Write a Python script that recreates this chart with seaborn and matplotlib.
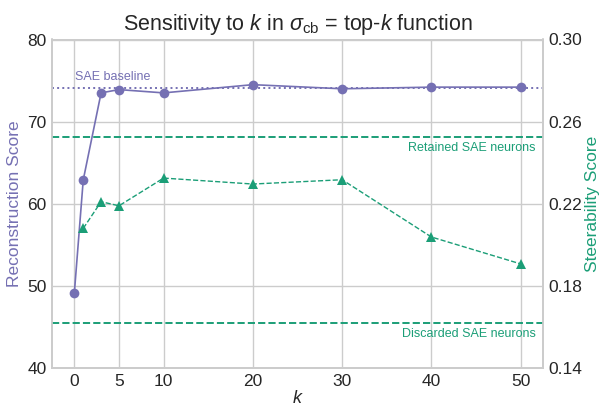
import matplotlib
matplotlib.use("Agg")
import matplotlib.pyplot as plt
import seaborn as sns
import pandas as pd

k_values = [0, 1, 3, 5, 10, 20, 30, 40, 50]
recon_scores = [49.1, 62.9, 73.5, 73.9, 73.5, 74.5, 74.0, 74.2, 74.2]
steer_k = [1, 3, 5, 10, 20, 30, 40, 50]
steer_scores = [0.208, 0.221, 0.219, 0.2325, 0.2296, 0.2317, 0.2038, 0.1907]
sae_baseline = 74.1
retained_sae = 0.2527
discarded_sae = 0.1619
x_ticks = [0, 5, 10, 20, 30, 40, 50]
left_ticks = [40, 50, 60, 70, 80]
right_ticks = [0.14, 0.18, 0.22, 0.26, 0.30]

sns.set_theme(style="whitegrid")
plt.rcParams["font.family"] = ["Liberation Sans", "DejaVu Sans"]
plt.rcParams["mathtext.fontset"] = "custom"
plt.rcParams["mathtext.rm"] = "Liberation Sans"
plt.rcParams["mathtext.it"] = "Liberation Sans:italic"
plt.rcParams["mathtext.bf"] = "Liberation Sans:bold"

purple = "#7570b3"
green = "#1b9e77"

df_r = pd.DataFrame({"k": k_values, "score": recon_scores})
df_s = pd.DataFrame({"k": steer_k, "score": steer_scores})

fig, ax = plt.subplots(figsize=(6, 4.07), dpi=100)
fig.subplots_adjust(left=52/600, right=543/600, top=1-39.5/407, bottom=1-368/407)
ax2 = ax.twinx()

sns.lineplot(data=df_r, x="k", y="score", ax=ax, color=purple, marker="o",
             markersize=7, markeredgewidth=0, linewidth=1.2, zorder=3)
ax.axhline(sae_baseline, color=purple, linestyle=":", linewidth=1.4)
ax.text(0.1, sae_baseline + 0.6, "SAE baseline", color=purple, fontsize=9,
        ha="left", va="bottom")

sns.lineplot(data=df_s, x="k", y="score", ax=ax2, color=green, marker="^",
             markersize=7.5, markeredgewidth=0, linewidth=1.0, linestyle="--", zorder=3)
ax2.axhline(retained_sae, color=green, linestyle="--", linewidth=1.4)
ax2.axhline(discarded_sae, color=green, linestyle="--", linewidth=1.4)
ax2.text(51.7, retained_sae - 0.0025, "Retained SAE neurons", color=green, fontsize=9,
         ha="right", va="top")
ax2.text(51.7, discarded_sae - 0.0025, "Discarded SAE neurons", color=green, fontsize=9,
         ha="right", va="top")

ax.set_xlim(-2.5, 52.5)
ax.set_ylim(40, 80)
ax2.set_ylim(0.14, 0.30)
ax.set_xticks(x_ticks)
ax.set_yticks(left_ticks)
ax2.set_yticks(right_ticks)
ax2.set_yticklabels([f"{t:.2f}" for t in right_ticks])
ax2.grid(False)
for a in (ax, ax2):
    a.tick_params(axis="both", labelsize=12.5, colors="#262626", length=0, pad=4)
    for s in a.spines.values():
        s.set_color("#cccccc")

ax.set_xlabel("$k$", fontsize=13, labelpad=1)
ax.set_ylabel("Reconstruction Score", color=purple, fontsize=12.5, labelpad=4)
ax2.set_ylabel("Steerability Score", color=green, fontsize=12.5, labelpad=2)
ax.set_title("Sensitivity to $k$ in $\\sigma_{\\rm cb}$ = top-$k$ function", fontsize=15.5, pad=7)

fig.savefig("out.png", dpi=100)
